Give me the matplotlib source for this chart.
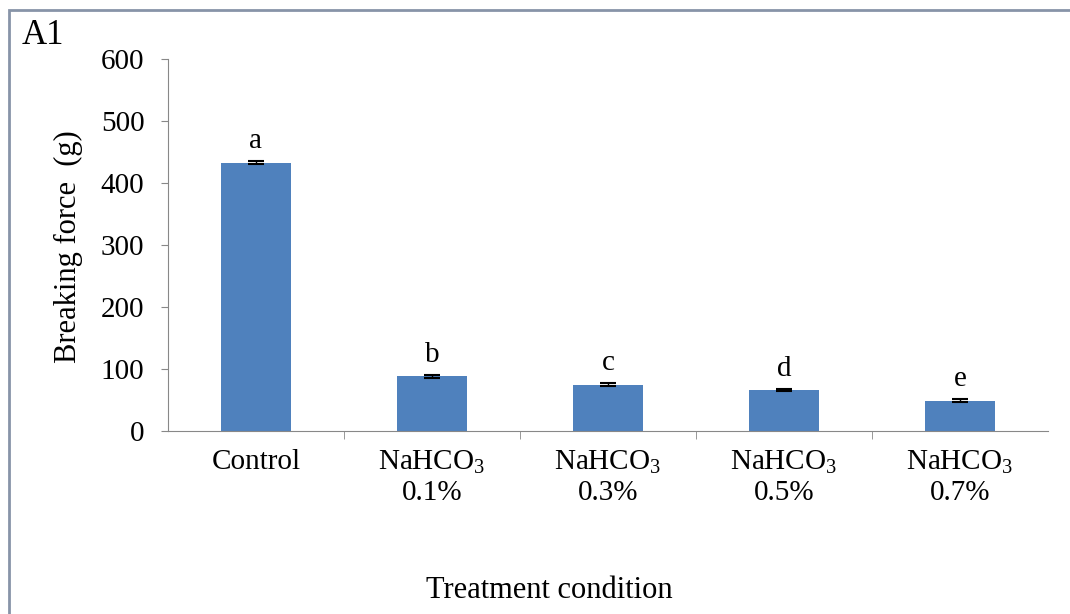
import matplotlib
matplotlib.use("Agg")
import matplotlib.pyplot as plt
from matplotlib.patches import Rectangle

categories = ["Control", "NaHCO$_3$\n0.1%", "NaHCO$_3$\n0.3%", "NaHCO$_3$\n0.5%", "NaHCO$_3$\n0.7%"]
values = [433, 88, 75, 66, 49]
errors = [2, 2, 2, 2, 2]
letters = ["a", "b", "c", "d", "e"]
yticks = [0, 100, 200, 300, 400, 500, 600]

plt.rcParams["font.family"] = ["Liberation Serif", "DejaVu Serif"]
plt.rcParams["mathtext.fontset"] = "custom"
plt.rcParams["mathtext.rm"] = "Liberation Serif"
plt.rcParams["mathtext.default"] = "regular"

fig = plt.figure(figsize=(10.7, 6.14), dpi=100)
fig.patches.append(Rectangle((9/1070, -0.1), 1.2, (614-10)/614 + 0.1, transform=fig.transFigure,
                             fill=False, edgecolor="#8794a8", linewidth=2.0))
ax = fig.add_axes([168/1070, 1-431/614, (1048-168)/1070, (431-59)/614])

x = list(range(len(categories)))
ax.bar(x, values, width=0.4, color="#4f81bd", zorder=2)
ax.errorbar(x, values, yerr=errors, fmt="none", ecolor="black", elinewidth=1, capsize=6, capthick=1.5, zorder=3)
for xi, v, e, l in zip(x, values, errors, letters):
    ax.annotate(l, (xi, v + e), xytext=(0, 5), textcoords="offset points",
                ha="center", va="bottom", fontsize=21)

ax.set_xlim(-0.5, len(categories) - 0.5)
ax.set_ylim(0, 600)
ax.set_yticks(yticks)
ax.set_yticklabels([str(t) for t in yticks])
ax.set_xticks(x)
ax.set_xticklabels(categories, fontsize=21, linespacing=1.2)
ax.tick_params(axis="x", length=0, pad=13)
ax.set_xticks([i + 0.5 for i in x[:-1]], minor=True)
ax.tick_params(axis="x", which="minor", length=6, direction="out", color="#888888")
ax.tick_params(axis="y", labelsize=21, length=5, direction="out", color="#888888", pad=12)

for s in ["top", "right"]:
    ax.spines[s].set_visible(False)
ax.spines["left"].set_color("#888888")
ax.spines["bottom"].set_color("#888888")

fig.text(68/1070, 1-247/614, "Breaking force  (g)", rotation=90, ha="center", va="center", fontsize=22)
fig.text(549/1070, 1-590/614, "Treatment condition", ha="center", va="center", fontsize=22)
fig.text(22/1070, 1-36/614, "A1", ha="left", va="center", fontsize=25)

fig.savefig("out.png", dpi=100)
